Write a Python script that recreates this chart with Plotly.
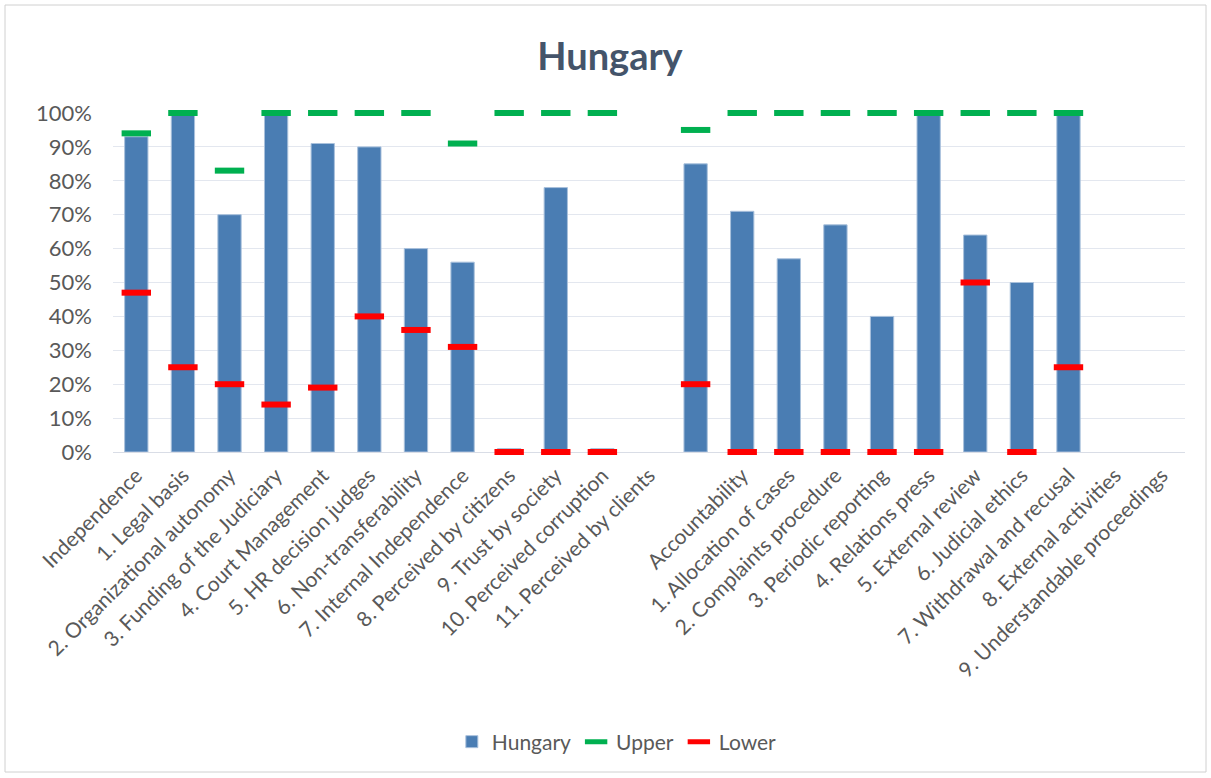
import plotly.graph_objects as go

categories = [
    "Independence", "1. Legal basis", "2. Organizational autonomy",
    "3. Funding of the Judiciary", "4. Court Management", "5. HR decision judges",
    "6. Non-transferability", "7. Internal Independence", "8. Perceived by citizens",
    "9. Trust by society", "10. Perceived corruption", "11. Perceived by clients",
    " ", "Accountability", "1. Allocation of cases", "2. Complaints procedure",
    "3. Periodic reporting", "4. Relations press", "5. External review",
    "6. Judicial ethics", "7. Withdrawal and recusal", "8. External activities",
    "9. Understandable proceedings",
]
hungary = [0.93, 1.00, 0.70, 1.00, 0.91, 0.90, 0.60, 0.56, 0.01, 0.78, 0.01, None,
           0.85, 0.71, 0.57, 0.67, 0.40, 1.00, 0.64, 0.50, 1.00, None, None]
upper = [0.94, 1.00, 0.83, 1.00, 1.00, 1.00, 1.00, 0.91, 1.00, 1.00, 1.00, None,
         0.95, 1.00, 1.00, 1.00, 1.00, 1.00, 1.00, 1.00, 1.00, None, None]
lower = [0.47, 0.25, 0.20, 0.14, 0.19, 0.40, 0.36, 0.31, 0.00, 0.00, 0.00, None,
         0.20, 0.00, 0.00, 0.00, 0.00, 0.00, 0.50, 0.00, 0.25, None, None]
y_ticks = [0, 0.1, 0.2, 0.3, 0.4, 0.5, 0.6, 0.7, 0.8, 0.9, 1.0]

FONT = "Lato"
TXT = "#595959"

fig = go.Figure()
fig.add_trace(go.Bar(
    x=categories, y=hungary, name="Hungary",
    marker=dict(color="#4a7db3", line=dict(color="#a9c1dc", width=1)),
))
fig.add_trace(go.Scatter(
    x=categories, y=upper, name="Upper", mode="markers", cliponaxis=False,
    marker=dict(symbol="line-ew", size=21, color="#00b050",
                line=dict(color="#00b050", width=6)),
))
fig.add_trace(go.Scatter(
    x=categories, y=lower, name="Lower", mode="markers", cliponaxis=False,
    marker=dict(symbol="line-ew", size=21, color="#ff0000",
                line=dict(color="#ff0000", width=6)),
))

L, R, T, B = 113, 26, 113, 326
W, H = 1211, 778
pw, ph = W - L - R, H - T - B

fig.update_layout(
    width=W, height=H,
    margin=dict(l=L, r=R, t=T, b=B, autoexpand=False),
    paper_bgcolor="white", plot_bgcolor="white",
    font=dict(family=FONT, color=TXT, size=21),
    title=dict(text="<b>Hungary</b>", x=(610 - L) / pw, xref="paper", xanchor="center",
               y=1 - 57 / H, yanchor="middle",
               font=dict(family=FONT, size=38, color="#44546a")),
    bargap=0.5,
    showlegend=True,
    legend=dict(orientation="h", x=0.47, xanchor="center", y=(452 - 742) / ph, yanchor="middle",
                font=dict(family=FONT, size=21, color=TXT), traceorder="normal"),
    xaxis=dict(type="category", range=[-0.5, len(categories) - 0.5], tickangle=-45,
               showgrid=False, showline=True, automargin=False, layer="below traces",
               linecolor="#d9dde6", linewidth=1, ticks="", tickfont=dict(size=21, color=TXT),
               ticklabelstandoff=2),
    yaxis=dict(range=[0, 1.0], tickvals=y_ticks, tickformat=".0%", showgrid=True, automargin=False,
               gridcolor="#e3e7ef", gridwidth=1, zeroline=False, showline=False,
               layer="below traces",
               tickfont=dict(size=22, color=TXT), ticklabelstandoff=20),
    shapes=[dict(type="rect", xref="paper", yref="paper",
                 x0=(5 - L) / pw, x1=(1206 - L) / pw,
                 y0=(452 - 772) / ph, y1=(452 - 5) / ph,
                 line=dict(color="#d0d0d0", width=1), fillcolor="rgba(0,0,0,0)", layer="below")],
)

fig.write_html("out.html", config={"displayModeBar": False},
               post_script="document.body.style.margin='0';")
